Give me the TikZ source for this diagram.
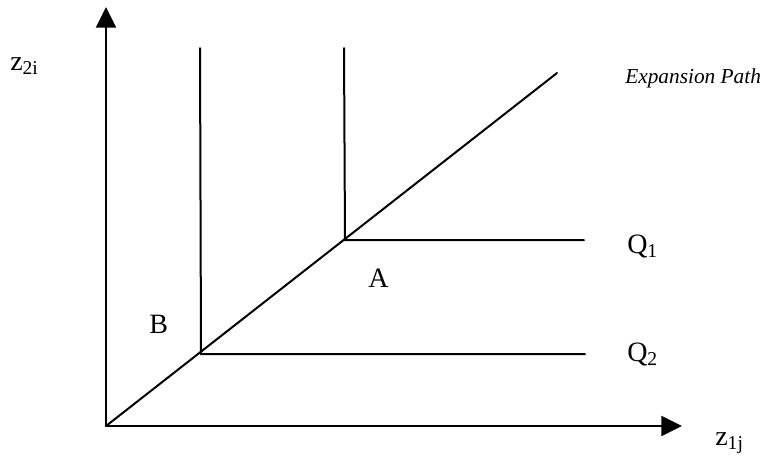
\documentclass[tikz,border=0pt]{standalone}
\usepackage{fontspec}
\setmainfont{Liberation Serif}
\usetikzlibrary{arrows.meta}
\begin{document}
\begin{tikzpicture}[x=0.75pt,y=-0.75pt,
  ln/.style={line width=1.5pt,line cap=round},
  axis/.style={ln,-{Triangle[width=15pt,length=15.5pt]}},
  lbl/.style={inner sep=0pt,anchor=base west,font=\fontsize{21}{25}\selectfont},
  epl/.style={inner sep=0pt,anchor=base west,font=\fontsize{16}{19}\selectfont\itshape}]
\path[use as bounding box] (0,0) rectangle (763,455);
% coordinates
\coordinate (O) at (106,426);
\coordinate (Ytip) at (106,7);
\coordinate (Xtip) at (682,426);
\coordinate (C2) at (201,354);
\coordinate (C2top) at (200,48);
\coordinate (C2end) at (585,354);
\coordinate (C1) at (345,240);
\coordinate (C1top) at (344,48);
\coordinate (C1end) at (584,240);
\coordinate (E) at (557,73);
% axes
\draw[axis] (O) -- (Ytip);
\draw[axis] (O) -- (Xtip);
% expansion path
\draw[ln] (O) -- (E);
% isoquants
\draw[ln] (C2top) -- (C2) -- (C2end);
\draw[ln] (C1top) -- (C1) -- (C1end);
% labels
\node[lbl] (zy) at (10,70) {z\textsubscript{2i}};
\node[lbl] (zx) at (715,445) {z\textsubscript{1j}};
\node[lbl] (q1) at (627,253) {Q\textsubscript{1}};
\node[lbl] (q2) at (627,361) {Q\textsubscript{2}};
\node[lbl] (a) at (368,287) {A};
\node[lbl] (b) at (149,333) {B};
\node[epl] (ep) at (625,83) {Expansion Path};
\end{tikzpicture}
\end{document}
